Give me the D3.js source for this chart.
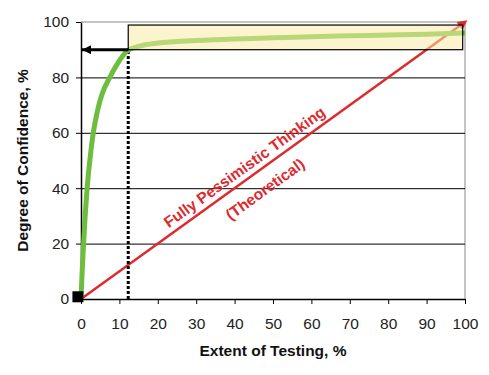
<!DOCTYPE html>
<html>
<head>
<meta charset="utf-8">
<script src="https://cdn.jsdelivr.net/npm/d3@7"></script>
<style>
  body { margin: 0; background: #fff; }
  text { font-family: Arial, "Liberation Sans", sans-serif; }
</style>
</head>
<body>
<script>
// confidence curve (extent of testing %, confidence %)
var testing = [0, 0.3, 0.6, 1, 1.6, 2.3, 3.2, 4.3, 5.5, 7.5, 9.5, 12, 15, 20, 30, 40, 50, 60, 70, 80, 90, 100];
var confidence = [0, 10, 18, 28, 40, 50, 60, 68, 74, 80, 85, 89.5, 91.2, 92.4, 93.3, 93.9, 94.3, 94.7, 95, 95.3, 95.6, 96];

// pessimistic line
var pessX = [0, 100];
var pessY = [0, 100];

// marker at 90% confidence
var markX = 12.3;
var markY = 90;
var boxTop = 98.9;
var boxRight = 99.4;

var xTicks = [0, 10, 20, 30, 40, 50, 60, 70, 80, 90, 100];
var yTicks = [0, 20, 40, 60, 80, 100];

var width = 489;
var height = 375;
var margin = ({ top: 22, right: 24, bottom: 76, left: 81 });

var svg = d3.select('body').append('svg')
    .attr('width', width)
    .attr('height', height);

var x = d3.scaleLinear().domain([0, 100]).range([margin.left, width - margin.right]);
var y = d3.scaleLinear().domain([0, 100]).range([height - margin.bottom, margin.top]);

// plot border (top / right)
svg.append("path")
    .attr("d", `M${x(0)},${y(100)}H${x(100)}V${y(0)}`)
    .attr("fill", "none")
    .attr("stroke", "#888")
    .attr("stroke-width", 1);

// gridlines
svg.append("g")
    .selectAll("line")
    .data(yTicks.filter(d => d > 0 && d < 100))
    .enter()
    .append("line")
    .attr("x1", x(0)).attr("x2", x(100))
    .attr("y1", d => y(d) + 0.5).attr("y2", d => y(d) + 0.5)
    .attr("stroke", "#000");

// axes
var xAxis = g => g
    .attr("transform", `translate(0,${y(0)})`)
    .call(d3.axisBottom(x).tickValues(xTicks).tickSize(5).tickSizeOuter(0))
    .call(g => g.selectAll("text").attr("font-size", 15.5).attr("fill", "#222").attr("y", 29.5).attr("dy", 0))
    .call(g => g.select(".domain").attr("stroke-width", 1.5));

var yAxis = g => g
    .attr("transform", `translate(${x(0)},0)`)
    .call(d3.axisLeft(y).tickValues(yTicks).tickSize(5).tickSizeOuter(0))
    .call(g => g.selectAll("text").attr("font-size", 15.5).attr("fill", "#222").attr("dx", "-0.25em"))
    .call(g => g.select(".domain").attr("stroke-width", 1.5));

svg.append("g").call(xAxis);
svg.append("g").call(yAxis);

svg.selectAll(".tick text").attr("font-family", "Arial, 'Liberation Sans', sans-serif");

// red pessimistic line
var red = "#dd2a2e";
svg.append("defs").append("marker")
    .attr("id", "redhead")
    .attr("viewBox", "0 0 10 10")
    .attr("refX", 7).attr("refY", 5)
    .attr("markerWidth", 4).attr("markerHeight", 4)
    .attr("orient", "auto")
    .append("path")
    .attr("d", "M0,0L10,5L0,10z")
    .attr("fill", red);

svg.append("line")
    .attr("x1", x(pessX[0])).attr("y1", y(pessY[0]))
    .attr("x2", x(pessX[1])).attr("y2", y(pessY[1]))
    .attr("stroke", red)
    .attr("stroke-width", 2.5)
    .attr("marker-end", "url(#redhead)");

var ang = Math.atan2(y(pessY[1]) - y(pessY[0]), x(pessX[1]) - x(pessX[0])) * 180 / Math.PI;

svg.append("text")
    .attr("transform", `translate(${x(44.3)},${y(44.3)}) rotate(${ang})`)
    .attr("dy", -6)
    .attr("text-anchor", "middle")
    .attr("font-size", 15.5)
    .attr("font-weight", "bold")
    .attr("fill", red)
    .text("Fully Pessimistic Thinking");

svg.append("text")
    .attr("transform", `translate(${x(45.1)},${y(45.1)}) rotate(${ang})`)
    .attr("dy", 24)
    .attr("text-anchor", "middle")
    .attr("font-size", 15.5)
    .attr("font-weight", "bold")
    .attr("fill", red)
    .text("(Theoretical)");

// dotted vertical at 12%
svg.append("line")
    .attr("x1", x(markX)).attr("x2", x(markX))
    .attr("y1", y(0)).attr("y2", y(markY))
    .attr("stroke", "#000")
    .attr("stroke-width", 3)
    .attr("stroke-dasharray", "3,2");

// green confidence curve
var line = d3.line()
    .x(d => x(d[0]))
    .y(d => y(d[1]))
    .curve(d3.curveMonotoneX);

svg.append("path")
    .datum(testing.map((t, i) => [t, confidence[i]]))
    .attr("d", line)
    .attr("fill", "none")
    .attr("stroke", "#6dbe3f")
    .attr("stroke-width", 5);

// highlighted plateau box
svg.append("rect")
    .attr("x", x(markX))
    .attr("y", y(boxTop))
    .attr("width", x(boxRight) - x(markX))
    .attr("height", y(markY) - y(boxTop))
    .attr("fill", "#f7eba6")
    .attr("fill-opacity", 0.55)
    .attr("stroke", "#000")
    .attr("stroke-width", 1.2);

// arrow back to the y axis
svg.select("defs").append("marker")
    .attr("id", "blackhead")
    .attr("viewBox", "0 0 10 10")
    .attr("refX", 10).attr("refY", 5)
    .attr("markerWidth", 4).attr("markerHeight", 3)
    .attr("markerUnits", "strokeWidth")
    .attr("orient", "auto")
    .append("path")
    .attr("d", "M0,0L10,5L0,10z")
    .attr("fill", "#000");

svg.append("line")
    .attr("x1", x(markX)).attr("x2", x(0) + 1)
    .attr("y1", y(markY)).attr("y2", y(markY))
    .attr("stroke", "#000")
    .attr("stroke-width", 3)
    .attr("marker-end", "url(#blackhead)");

// black square at origin
svg.append("rect")
    .attr("x", x(-0.8) - 5.5)
    .attr("y", y(0.8) - 5.5)
    .attr("width", 11)
    .attr("height", 11)
    .attr("fill", "#000");

// axis titles
svg.append("text")
    .attr("x", (x(0) + x(100)) / 2)
    .attr("y", 356)
    .attr("text-anchor", "middle")
    .attr("font-size", 15.5)
    .attr("font-weight", "bold")
    .attr("fill", "#111")
    .text("Extent of Testing, %");

svg.append("text")
    .attr("transform", `translate(28,${(y(0) + y(100)) / 2}) rotate(-90)`)
    .attr("text-anchor", "middle")
    .attr("font-size", 15.5)
    .attr("font-weight", "bold")
    .attr("fill", "#111")
    .text("Degree of Confidence, %");
</script>
</body>
</html>
